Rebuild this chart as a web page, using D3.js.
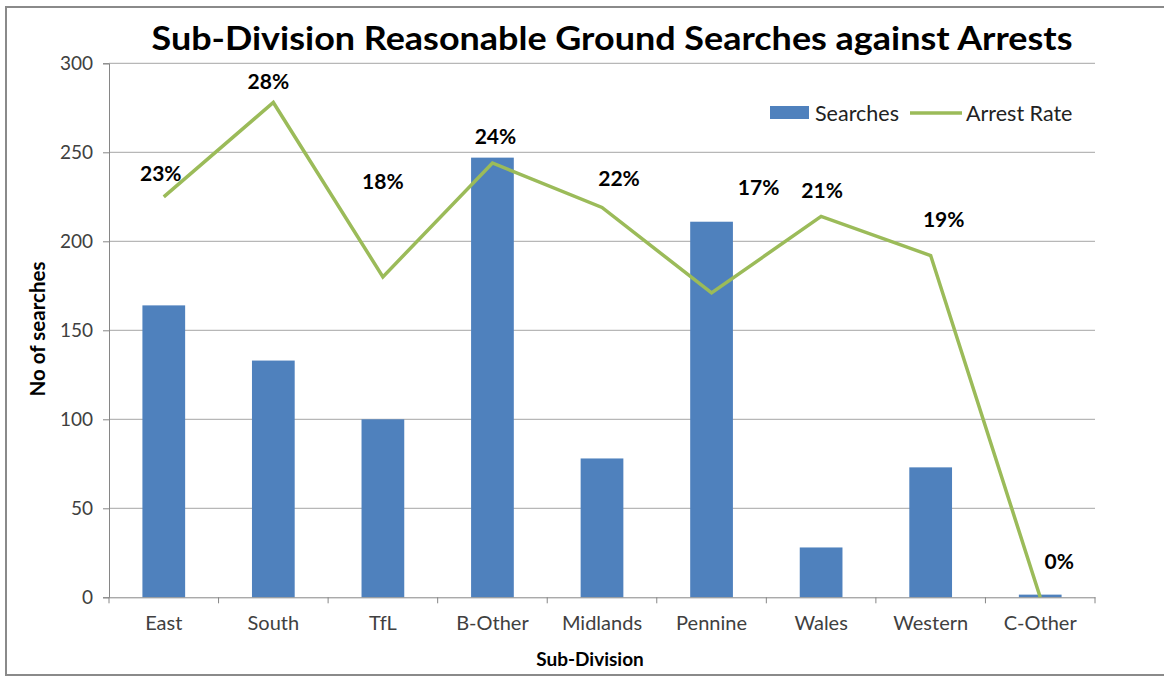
<!DOCTYPE html>
<html><head><meta charset="utf-8">
<script src="https://cdn.jsdelivr.net/npm/d3@7"></script>
<style>
html,body{margin:0;padding:0;background:#fff;}
svg{display:block;font-family:Lato,"Open Sans",sans-serif;}
</style></head>
<body>
<svg id="chart" width="1164" height="678"></svg>
<script>
const categories = ["East","South","TfL","B-Other","Midlands","Pennine","Wales","Western","C-Other"];
const searches = [164,133,100,247,78,211,28,73,1.5];
const arrestRate = [22.5,27.8,18.0,24.4,21.9,17.1,21.4,19.2,0];
const yTicks = [0,50,100,150,200,250,300];
// label nudges (px) relative to each line point
const labelNudge = [[-3,-24],[-5,-22],[0,-96],[3,-27],[17,-30],[47,-106],[1,-27],[13,-37],[19,-37]];

const svg = d3.select("#chart");
const m = {left:109, right:1095, top:63.3, bottom:597.3};

svg.append("rect").attr("x",6).attr("y",7).attr("width",1170).attr("height",668)
  .attr("fill","#fff").attr("stroke","#8a8a8a").attr("stroke-width",2);

const x = d3.scaleBand().domain(categories).range([m.left,m.right]).paddingInner(0).paddingOuter(0);
const y = d3.scaleLinear().domain([0,300]).range([m.bottom,m.top]);
const y2 = d3.scaleLinear().domain([0,30]).range([m.bottom,m.top]);

// gridlines
svg.append("g").selectAll("line").data(yTicks.filter(d=>d>0)).join("line")
  .attr("x1",m.left).attr("x2",m.right).attr("y1",d=>y(d)).attr("y2",d=>y(d))
  .attr("stroke","#a6a6a6").attr("stroke-width",1);

// bars
const bw = x.bandwidth()*0.39;
svg.append("g").selectAll("rect").data(categories).join("rect")
  .attr("x",(d)=>x(d)+x.bandwidth()/2-bw/2)
  .attr("width",bw)
  .attr("y",(d,i)=>y(searches[i]))
  .attr("height",(d,i)=>y(0)-y(searches[i]))
  .attr("fill","#4F81BD");

// y axis
const yAxis = d3.axisLeft(y).tickValues(yTicks).tickSize(6).tickPadding(10);
const gy = svg.append("g").attr("transform",`translate(${m.left},0)`).call(yAxis);
gy.select(".domain").attr("stroke","#868686");
gy.selectAll(".tick line").attr("stroke","#868686");
gy.selectAll(".tick text").attr("font-size",19).attr("fill","#404040").attr("font-family","Lato");

// x axis
const xAxis = d3.axisBottom(x).tickSize(0).tickPadding(19);
const gx = svg.append("g").attr("transform",`translate(0,${m.bottom})`).call(xAxis);
gx.select(".domain").attr("stroke","#868686");
gx.selectAll(".tick text").attr("font-size",20).attr("fill","#404040").attr("font-family","Lato");
// boundary ticks
const bounds = categories.map(c=>x(c)).concat([m.right]);
svg.append("g").selectAll("line").data(bounds).join("line")
  .attr("x1",d=>d).attr("x2",d=>d).attr("y1",m.bottom).attr("y2",m.bottom+6)
  .attr("stroke","#868686");

// line
const pts = categories.map((c,i)=>[x(c)+x.bandwidth()/2, y2(arrestRate[i])]);
svg.append("path").datum(pts).attr("d",d3.line())
  .attr("fill","none").attr("stroke","#9BBB59").attr("stroke-width",3.5).attr("stroke-linejoin","miter");

// data labels
svg.append("g").selectAll("text").data(categories).join("text")
  .attr("x",(d,i)=>pts[i][0]+labelNudge[i][0])
  .attr("y",(d,i)=>pts[i][1]+labelNudge[i][1])
  .attr("text-anchor","middle").attr("dominant-baseline","central")
  .attr("font-size",21).attr("font-weight","bold").attr("fill","#000")
  .text((d,i)=>Math.round(arrestRate[i])+"%");

// title
svg.append("text").attr("x",612).attr("y",50).attr("text-anchor","middle")
  .attr("font-size",33).attr("font-weight","bold").attr("fill","#000")
  .attr("textLength",921).attr("lengthAdjust","spacingAndGlyphs")
  .text("Sub-Division Reasonable Ground Searches against Arrests");

// axis titles
svg.append("text").attr("transform","translate(45,329) rotate(-90)").attr("text-anchor","middle")
  .attr("font-size",20.5).attr("font-weight","bold").text("No of searches");
svg.append("text").attr("x",590).attr("y",666).attr("text-anchor","middle")
  .attr("font-size",19).attr("font-weight","bold").text("Sub-Division");

// legend
const lg = svg.append("g");
lg.append("rect").attr("x",770).attr("y",106).attr("width",39).attr("height",13).attr("fill","#4F81BD");
lg.append("text").attr("x",815).attr("y",113).attr("dominant-baseline","central").attr("font-size",21.5).attr("fill","#222").text("Searches");
lg.append("line").attr("x1",910).attr("x2",962).attr("y1",113).attr("y2",113).attr("stroke","#9BBB59").attr("stroke-width",3.5);
lg.append("text").attr("x",966).attr("y",113).attr("dominant-baseline","central").attr("font-size",21.5).attr("fill","#222").text("Arrest Rate");
</script>
</body></html>
